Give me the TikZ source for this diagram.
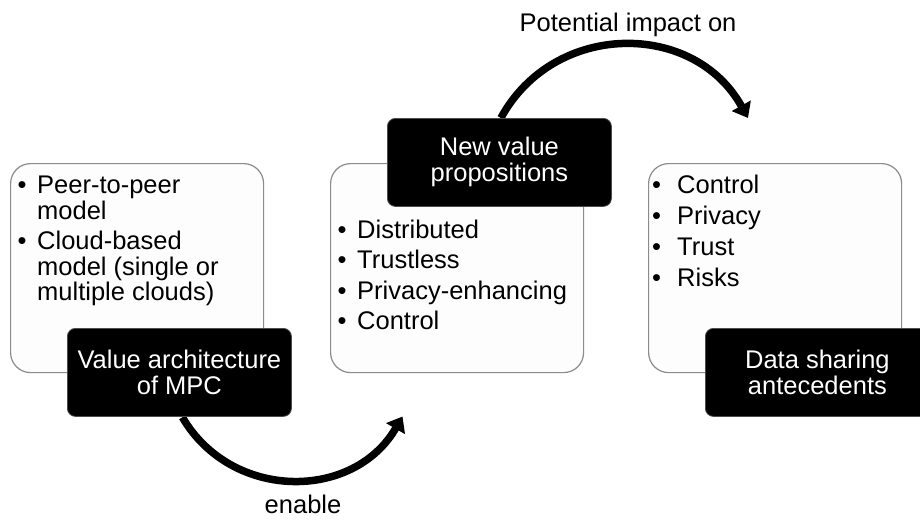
\documentclass[tikz,border=0pt]{standalone}
\usepackage{fontspec}
\setmainfont{Liberation Sans}
\usetikzlibrary{arrows.meta,calc,backgrounds}
\definecolor{bordergray}{HTML}{8C8C8C}
\definecolor{panelfill}{HTML}{FDFDFD}
\begin{document}
\begin{tikzpicture}[x=1pt,y=-1pt,
  panel/.style={draw=bordergray, line width=1.2pt, fill=panelfill, rounded corners=20pt,
    minimum width=253pt, minimum height=209pt, inner sep=0pt, anchor=north west},
  tag/.style={fill=black, draw=black!70, line width=0.8pt, text=white, rounded corners=8pt,
    minimum width=224pt, minimum height=88pt, align=center, inner sep=0pt,
    font=\fontsize{25.5}{26}\selectfont, anchor=north west},
  txt/.style={font=\fontsize{25.5}{26}\selectfont, inner sep=0pt, anchor=base west},
  arrowlabel/.style={font=\fontsize{25.5}{26}\selectfont, inner sep=0pt, anchor=base},
  flow/.style={line width=7.5pt, -{Triangle[length=14pt,width=21pt]}}]
\useasboundingbox (0,0) rectangle (920,519);
\clip (0,0) rectangle (920,519);

% white panels
\node[panel] (p1) at (10,163) {};
\node[panel] (p2) at (330,163) {};
\node[panel] (p3) at (648,163) {};

% black tags
\node[tag] (v1) at (67,328) {Value architecture\\of MPC};
\node[tag] (v2) at (387,118) {New value\\propositions};
\node[tag] (v3) at (705,328) {Data sharing\\antecedents};

% left panel text
\node[txt] (b11) at (17.5,193) {•};
\node[txt] (t11) at (37,193) {Peer-to-peer};
\node[txt] (t12) at (37,219) {model};
\node[txt] (b12) at (17.5,249) {•};
\node[txt] (t13) at (37,249) {Cloud-based};
\node[txt] (t14) at (37,275) {model (single or};
\node[txt] (t15) at (37,300) {multiple clouds)};

% middle panel text
\node[txt] (b21) at (337.5,238) {•};
\node[txt] (t21) at (357,238) {Distributed};
\node[txt] (b22) at (337.5,268.5) {•};
\node[txt] (t22) at (357,268.5) {Trustless};
\node[txt] (b23) at (337.5,299) {•};
\node[txt] (t23) at (357,299) {Privacy-enhancing};
\node[txt] (b24) at (337.5,329.5) {•};
\node[txt] (t24) at (357,329.5) {Control};

% right panel text
\node[txt] (b31) at (652,193) {•};
\node[txt] (t31) at (677,193) {Control};
\node[txt] (b32) at (652,224) {•};
\node[txt] (t32) at (677,224) {Privacy};
\node[txt] (b33) at (652,255) {•};
\node[txt] (t33) at (677,255) {Trust};
\node[txt] (b34) at (652,286) {•};
\node[txt] (t34) at (677,286) {Risks};

% arrow labels
\node[arrowlabel] (lab1) at (303,513.5) {enable};
\node[arrowlabel] (lab2) at (628,32) {Potential impact on};

% curved arrows
\coordinate (a1e) at (402.5,416.5);
\coordinate (a2e) at (748,118);
\begin{scope}[on background layer]
\fill[white] (0,0) rectangle (920,519);
\draw[flow] ($(v1.south)+(3,0.5)$) .. controls (231.4,501.1) and (353.6,501.1) .. (a1e);
\draw[flow] ($(v2.north)+(1.5,0)$) .. controls (554,20.5) and (694,20.5) .. (a2e);
\end{scope}
\end{tikzpicture}
\end{document}
